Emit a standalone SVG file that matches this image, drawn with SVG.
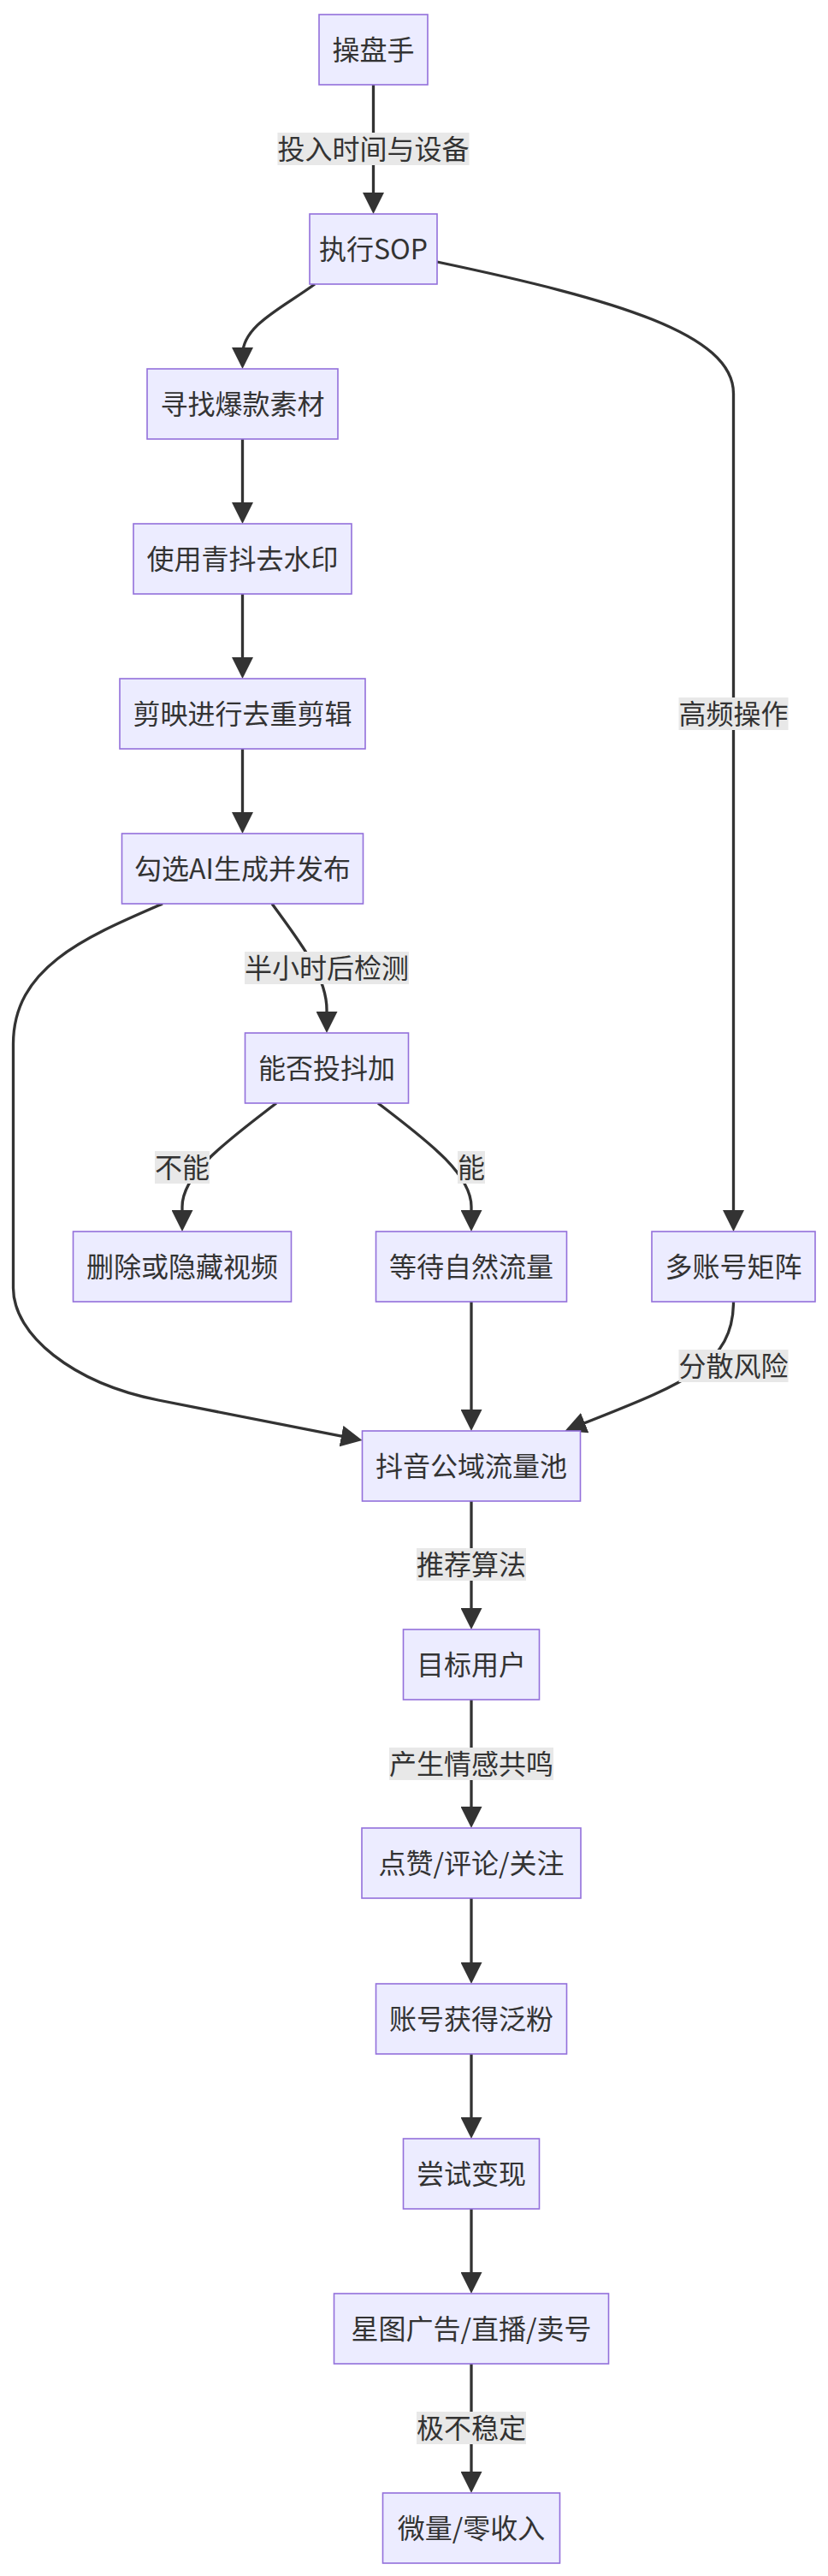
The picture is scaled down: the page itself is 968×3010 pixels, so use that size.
<svg xmlns="http://www.w3.org/2000/svg" width="968" height="3010" viewBox="0 0 968 3010">
<style>
.node rect{fill:#ECECFF;stroke:#9370DB;stroke-width:1.6}
.node text,.lbl text{font-family:'Noto Sans CJK SC','Noto Sans',sans-serif;font-size:32px;fill:#333;text-anchor:middle}
.edge{fill:none;stroke:#333;stroke-width:3.3;marker-end:url(#arr)}
.lbl rect{fill:#e8e8e8}
</style>
<defs>
<marker id="arr" viewBox="0 0 10 10" refX="8.4" refY="5" markerUnits="userSpaceOnUse" markerWidth="25" markerHeight="25" orient="auto">
<path d="M0,0 L10,5 L0,10 z" fill="#333"/>
</marker>
</defs>
<rect width="968" height="3010" fill="#fff"/>
<g id="connectors">
<path class="edge" d="M436.5,99 L436.5,246"/>
<path class="edge" d="M368,332 C330,360 283.5,380 283.5,415 L283.5,427"/>
<path class="edge" d="M511,306 C720,350 857.5,390 857.5,460 L857.5,1435"/>
<path class="edge" d="M283.5,513 L283.5,608"/>
<path class="edge" d="M283.5,694 L283.5,789"/>
<path class="edge" d="M283.5,875 L283.5,970"/>
<path class="edge" d="M318,1056 C350,1100 382,1140 382,1180 L382,1203"/>
<path class="edge" d="M190,1056 C100,1095 15.5,1130 15.5,1220 L15.5,1505 C15.5,1560 85,1616 185,1636 L419.6,1682.2"/>
<path class="edge" d="M323,1289 C270,1330 213,1370 213,1410 L213,1435"/>
<path class="edge" d="M442,1289 C495,1330 551,1370 551,1410 L551,1435"/>
<path class="edge" d="M551,1521 L551,1668"/>
<path class="edge" d="M857.5,1521 C857.5,1600 790,1620 664.2,1670.5"/>
<path class="edge" d="M551,1754 L551,1900"/>
<path class="edge" d="M551,1986 L551,2132"/>
<path class="edge" d="M551,2218 L551,2314"/>
<path class="edge" d="M551,2400 L551,2495"/>
<path class="edge" d="M551,2581 L551,2676"/>
<path class="edge" d="M551,2762 L551,2909"/>
</g>
<g id="edge-labels">
<g class="lbl"><rect x="324.5" y="155" width="224" height="38"/><text x="436.5" y="186">投入时间与设备</text></g>
<g class="lbl"><rect x="793.5" y="815" width="128" height="38"/><text x="857.5" y="846">高频操作</text></g>
<g class="lbl"><rect x="286" y="1112" width="192" height="38"/><text x="382" y="1143">半小时后检测</text></g>
<g class="lbl"><rect x="181" y="1345" width="64" height="38"/><text x="213" y="1376">不能</text></g>
<g class="lbl"><rect x="535" y="1345" width="32" height="38"/><text x="551" y="1376">能</text></g>
<g class="lbl"><rect x="793.5" y="1577" width="128" height="38"/><text x="857.5" y="1608">分散风险</text></g>
<g class="lbl"><rect x="487" y="1809" width="128" height="38"/><text x="551" y="1840">推荐算法</text></g>
<g class="lbl"><rect x="455" y="2042" width="192" height="38"/><text x="551" y="2073">产生情感共鸣</text></g>
<g class="lbl"><rect x="487" y="2818" width="128" height="38"/><text x="551" y="2849">极不稳定</text></g>
</g>
<g id="n-A" class="node"><rect x="373" y="17" width="127" height="82"/><text x="436.5" y="70">操盘手</text></g>
<g id="n-B" class="node"><rect x="362" y="250" width="149" height="82"/><text x="436.5" y="303">执行SOP</text></g>
<g id="n-C" class="node"><rect x="172" y="431" width="223" height="82"/><text x="283.5" y="484">寻找爆款素材</text></g>
<g id="n-D" class="node"><rect x="156" y="612" width="255" height="82"/><text x="283.5" y="665">使用青抖去水印</text></g>
<g id="n-E" class="node"><rect x="140" y="793" width="287" height="82"/><text x="283.5" y="846">剪映进行去重剪辑</text></g>
<g id="n-F" class="node"><rect x="142.5" y="974" width="282" height="82"/><text x="283.5" y="1027">勾选AI生成并发布</text></g>
<g id="n-G" class="node"><rect x="286.5" y="1207" width="191" height="82"/><text x="382" y="1260">能否投抖加</text></g>
<g id="n-H" class="node"><rect x="85.5" y="1439" width="255" height="82"/><text x="213" y="1492">删除或隐藏视频</text></g>
<g id="n-I" class="node"><rect x="439.5" y="1439" width="223" height="82"/><text x="551" y="1492">等待自然流量</text></g>
<g id="n-J" class="node"><rect x="762" y="1439" width="191" height="82"/><text x="857.5" y="1492">多账号矩阵</text></g>
<g id="n-K" class="node"><rect x="423.5" y="1672" width="255" height="82"/><text x="551" y="1725">抖音公域流量池</text></g>
<g id="n-L" class="node"><rect x="471.5" y="1904" width="159" height="82"/><text x="551" y="1957">目标用户</text></g>
<g id="n-M" class="node"><rect x="423" y="2136" width="256" height="82"/><text x="551" y="2189">点赞/评论/关注</text></g>
<g id="n-N" class="node"><rect x="439.5" y="2318" width="223" height="82"/><text x="551" y="2371">账号获得泛粉</text></g>
<g id="n-O" class="node"><rect x="471.5" y="2499" width="159" height="82"/><text x="551" y="2552">尝试变现</text></g>
<g id="n-P" class="node"><rect x="390.5" y="2680" width="321" height="82"/><text x="551" y="2733">星图广告/直播/卖号</text></g>
<g id="n-Q" class="node"><rect x="447.5" y="2913" width="207" height="82"/><text x="551" y="2966">微量/零收入</text></g>
</svg>
